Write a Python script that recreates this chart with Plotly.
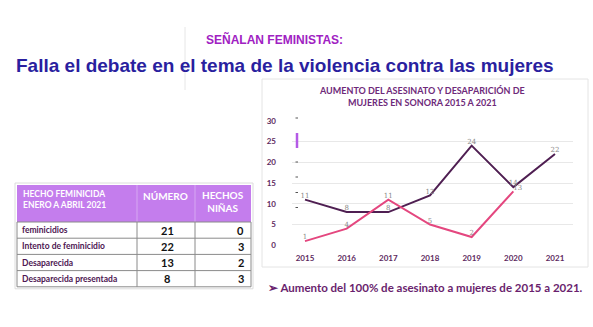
import plotly.graph_objects as go

W, H = 593, 327

# ---- data ----
years = [2015, 2016, 2017, 2018, 2019, 2020, 2021]
desaparicion = [11, 8, 8, 12, 24, 14, 22]
asesinato_years = [2015, 2016, 2017, 2018, 2019, 2020]
asesinato = [1, 4, 11, 5, 2, 13]
y_ticks = [0, 5, 10, 15, 20, 25, 30]

table_header = ["HECHO FEMINICIDA<br>ENERO A ABRIL 2021", "NÚMERO", "HECHOS<br>NIÑAS"]
table_rows = ["feminicidios", "Intento de feminicidio", "Desaparecida", "Desaparecida presentada"]
table_numero = [21, 22, 13, 8]
table_ninas = [0, 3, 2, 3]


def px(x):
    return x / W


def py(y):
    return 1 - y / H


fig = go.Figure()

dark = "#4f1f52"
pink = "#e4477f"
label_col = "#5d2a60"

fig.add_trace(go.Scatter(
    x=years, y=desaparicion, mode="lines+text",
    line=dict(color=dark, width=2),
    text=[str(v) for v in desaparicion], textposition="top center",
    textfont=dict(size=7, color="#888888", family="DejaVu Serif"),
    cliponaxis=False, showlegend=False, hoverinfo="skip",
))
fig.add_trace(go.Scatter(
    x=asesinato_years, y=asesinato, mode="lines+text",
    line=dict(color=pink, width=2),
    text=[str(v) for v in asesinato],
    textposition=["top center"] * 5 + ["top right"],
    textfont=dict(size=7, color="#888888", family="DejaVu Serif"),
    cliponaxis=False, showlegend=False, hoverinfo="skip",
))

# ---- table geometry (pixels) ----
tx0, tx1 = 17, 251
col_x = [17, 137, 195, 251]
hy0, hy1 = 185, 222
row_h = 16.2
n_rows = len(table_rows)
ty1 = hy1 + row_h * n_rows

shapes = [
    # chart frame
    dict(type="rect", xref="paper", yref="paper", x0=px(262), x1=px(588), y0=py(267), y1=py(79),
         line=dict(color="#e4e4e4", width=1), layer="below"),
    # faint vertical divider
    dict(type="line", xref="paper", yref="paper", x0=px(185), x1=px(185), y0=py(27), y1=py(90),
         line=dict(color="#e6e6e6", width=1)),
    # purple legend artifact
    dict(type="line", xref="paper", yref="paper", x0=px(297), x1=px(297), y0=py(133), y1=py(148),
         line=dict(color="#b45ae6", width=2.5)),
    # table outer shadow/border
    dict(type="rect", xref="paper", yref="paper", x0=px(tx0 - 2), x1=px(tx1 + 2), y0=py(ty1 + 2), y1=py(hy0 - 2),
         line=dict(color="#dcdcdc", width=1), fillcolor="white", layer="below"),
    # header fill
    dict(type="rect", xref="paper", yref="paper", x0=px(tx0), x1=px(tx1), y0=py(hy1), y1=py(hy0),
         line=dict(width=0), fillcolor="#c47ded"),
]
for yy in [118, 162, 177, 192.5, 207.5]:
    shapes.append(dict(type="line", xref="paper", yref="paper", x0=px(295.5), x1=px(298),
                       y0=py(yy), y1=py(yy), line=dict(color="#555555", width=1)))
# header column dividers (faint)
for cx in col_x[1:-1]:
    shapes.append(dict(type="line", xref="paper", yref="paper", x0=px(cx), x1=px(cx),
                       y0=py(hy1), y1=py(hy0), line=dict(color="#d6a8f2", width=1)))
# body grid
for i in range(n_rows + 1):
    yy = hy1 + row_h * i
    shapes.append(dict(type="line", xref="paper", yref="paper", x0=px(tx0), x1=px(tx1),
                       y0=py(yy), y1=py(yy), line=dict(color="#8a8a8a", width=1)))
for cx in col_x:
    shapes.append(dict(type="line", xref="paper", yref="paper", x0=px(cx), x1=px(cx),
                       y0=py(ty1), y1=py(hy1), line=dict(color="#8a8a8a", width=1)))

annotations = [
    dict(text="<b>SEÑALAN FEMINISTAS:</b>", x=px(204), y=py(40), xref="paper", yref="paper",
         xanchor="left", yanchor="middle", showarrow=False,
         font=dict(family="Liberation Sans", size=12, color="#a021c2")),
    dict(text="<b>Falla el debate en el tema de la violencia contra las mujeres</b>",
         x=px(14), y=py(65), xref="paper", yref="paper", xanchor="left", yanchor="middle",
         showarrow=False, font=dict(family="Liberation Sans", size=19, color="#2a1f9f")),
    dict(text="<b>AUMENTO DEL ASESINATO Y DESAPARICIÓN DE<br>MUJERES EN SONORA 2015 A 2021</b>",
         x=px(422), y=py(97), xref="paper", yref="paper", xanchor="center", yanchor="middle",
         showarrow=False, align="center",
         font=dict(family="Lato", size=9, color="#6e2a7a")),
    dict(text="<b>➢ Aumento del 100% de asesinato a mujeres de 2015 a 2021.</b>",
         x=px(266), y=py(287), xref="paper", yref="paper", xanchor="left", yanchor="middle",
         showarrow=False, font=dict(family="Lato", size=11.5, color="#6a1f6e")),
]

# table header texts
annotations.append(dict(text=f"<b>{table_header[0]}</b>", x=px(21), y=py(199), xref="paper", yref="paper",
                        xanchor="left", yanchor="middle", showarrow=False, align="left",
                        font=dict(family="Lato", size=8.5, color="white")))
annotations.append(dict(text=f"<b>{table_header[1]}</b>", x=px(166), y=py(196), xref="paper", yref="paper",
                        xanchor="center", yanchor="middle", showarrow=False,
                        font=dict(family="Lato", size=10, color="white")))
annotations.append(dict(text=f"<b>{table_header[2]}</b>", x=px(223), y=py(201), xref="paper", yref="paper",
                        xanchor="center", yanchor="middle", showarrow=False, align="center",
                        font=dict(family="Lato", size=10, color="white")))
# table body texts
for i, (name, num, nin) in enumerate(zip(table_rows, table_numero, table_ninas)):
    yc = hy1 + row_h * (i + 0.5)
    annotations.append(dict(text=f"<b>{name}</b>", x=px(20), y=py(yc), xref="paper", yref="paper",
                            xanchor="left", yanchor="middle", showarrow=False,
                            font=dict(family="Lato", size=8.5, color="#4e1752")))
    annotations.append(dict(text=f"<b>{num}</b>", x=px(167), y=py(yc), xref="paper", yref="paper",
                            xanchor="center", yanchor="middle", showarrow=False,
                            font=dict(family="Lato", size=11, color="#111111")))
    annotations.append(dict(text=f"<b>{nin}</b>", x=px(246), y=py(yc), xref="paper", yref="paper",
                            xanchor="right", yanchor="middle", showarrow=False,
                            font=dict(family="Lato", size=11, color="#111111")))

fig.update_layout(
    template="none",
    width=W, height=H,
    margin=dict(l=0, r=0, t=0, b=0),
    paper_bgcolor="white", plot_bgcolor="white",
    showlegend=False,
    shapes=shapes,
    annotations=annotations,
    xaxis=dict(
        domain=[px(292), px(573)],
        range=[2015 - 13 / 41.67, 2021 + 18 / 41.67],
        tickvals=years, ticktext=[str(y) for y in years],
        showgrid=False, zeroline=False, showline=False, ticks="",
        tickfont=dict(family="Lato", size=8, color=label_col, weight="bold"),
        ticklabelstandoff=7, automargin=False, fixedrange=True,
    ),
    yaxis=dict(
        domain=[py(245.3), py(120.7)],
        range=[0, 30],
        tickvals=y_ticks,
        showgrid=True, gridcolor="#e8e8e8", gridwidth=1,
        zeroline=False, showline=False, ticks="",
        tickfont=dict(family="Lato", size=8, color=label_col, weight="bold"),
        ticklabelstandoff=15, automargin=False, fixedrange=True,
    ),
)

fig.write_html("out.html")
